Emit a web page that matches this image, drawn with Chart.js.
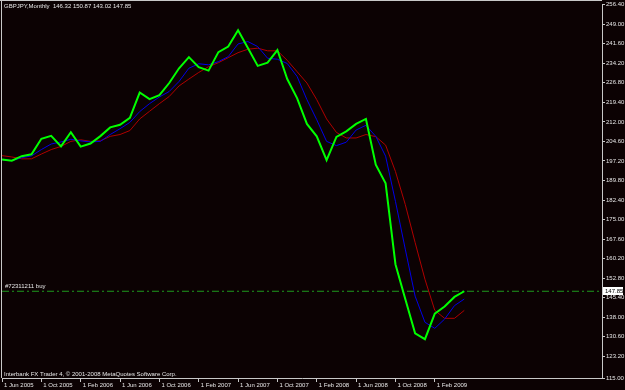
<!DOCTYPE html>
<html>
<head>
<meta charset="utf-8">
<script src="https://cdn.jsdelivr.net/npm/chart.js@4.4.1/dist/chart.umd.min.js"></script>
<style>
html,body{margin:0;padding:0;background:#0c0203;}
canvas{display:block;}
</style>
</head>
<body>
<canvas id="c" width="625" height="390"></canvas>
<script>
// Monthly bars Jun 2005 .. May 2009
const months = ['Jun 2005','Jul 2005','Aug 2005','Sep 2005','Oct 2005','Nov 2005','Dec 2005','Jan 2006',
  'Feb 2006','Mar 2006','Apr 2006','May 2006','Jun 2006','Jul 2006','Aug 2006','Sep 2006',
  'Oct 2006','Nov 2006','Dec 2006','Jan 2007','Feb 2007','Mar 2007','Apr 2007','May 2007',
  'Jun 2007','Jul 2007','Aug 2007','Sep 2007','Oct 2007','Nov 2007','Dec 2007','Jan 2008',
  'Feb 2008','Mar 2008','Apr 2008','May 2008','Jun 2008','Jul 2008','Aug 2008','Sep 2008',
  'Oct 2008','Nov 2008','Dec 2008','Jan 2009','Feb 2009','Mar 2009','Apr 2009','May 2009'];

// close price (green line)
const closeValues = [197.7,197.3,199.0,199.7,205.6,206.7,202.7,208.1,202.6,203.8,206.6,209.9,
  210.9,213.5,223.1,220.6,222.1,226.7,232.3,236.5,232.7,231.4,238.4,240.5,
  246.7,240.0,233.2,234.4,239.2,228.2,221.0,211.2,206.5,197.5,206.3,208.4,
  211.2,213.1,195.8,188.7,158.1,144.9,131.9,129.7,139.4,142.1,145.7,147.85];

// fast moving average (blue)
const blueMA = [197.7,197.3,198.4,199.1,201.5,203.6,204.4,205.4,204.8,204.4,204.6,207.2,
  209.4,211.8,215.9,218.9,221.4,223.5,227.3,232.3,234.0,233.6,234.8,236.7,
  241.5,242.4,240.5,236.1,235.7,234.1,229.2,220.4,212.8,204.6,203.0,204.3,
  208.9,210.7,206.5,199.0,181.9,163.8,146.0,136.1,133.8,137.3,142.4,144.9];

// slow moving average (red)
const redMA = [199.2,198.7,198.0,198.0,199.8,201.5,202.7,204.6,205.2,204.6,204.8,206.5,
  207.2,208.7,213.1,216.0,218.9,221.6,225.6,228.2,230.7,232.9,234.4,236.3,
  238.2,239.5,239.9,238.9,238.9,235.3,231.0,226.7,220.4,213.1,208.0,205.9,
  205.9,207.2,206.4,203.2,193.2,180.7,166.3,152.4,140.6,137.6,137.6,140.6];

const yTickValues = [256.40,249.00,241.60,234.20,226.80,219.40,212.00,204.60,197.20,189.80,
  182.40,175.00,167.60,160.20,152.80,145.40,138.00,130.60,123.20,115.00];
const xTickIndex = [0,4,8,12,16,20,24,28,32,36,40,44];
const xTickLabels = ['1 Jun 2005','1 Oct 2005','1 Feb 2006','1 Jun 2006','1 Oct 2006','1 Feb 2007',
  '1 Jun 2007','1 Oct 2007','1 Feb 2008','1 Jun 2008','1 Oct 2008','1 Feb 2009'];

const titleText = 'GBPJPY,Monthly  146.32 150.87 143.02 147.85';
const orderLabel = '#72311211 buy';
const orderPrice = 147.85;
const copyrightText = 'Interbank FX Trader 4, \u00a9 2001-2008 MetaQuotes Software Corp.';

const FONT = 'Liberation Sans';
const TXT = '#e6e6e6';
const AXIS = '#c8c8c8';

const toXY = arr => arr.map((v, i) => ({x: i, y: v}));

const decor = {
  id: 'decor',
  beforeDraw(chart) {
    const ctx = chart.ctx;
    ctx.save();
    ctx.fillStyle = '#0c0203';
    ctx.fillRect(0, 0, chart.width, chart.height);
    ctx.restore();
  },
  afterDraw(chart) {
    const ctx = chart.ctx;
    const a = chart.chartArea;
    const ys = chart.scales.y;
    ctx.save();
    // frame
    ctx.strokeStyle = AXIS;
    ctx.lineWidth = 1;
    ctx.beginPath();
    ctx.moveTo(1.5, 0); ctx.lineTo(1.5, a.bottom);
    ctx.moveTo(0, 0.5); ctx.lineTo(a.right, 0.5);
    ctx.stroke();
    // texts
    ctx.fillStyle = TXT;
    ctx.font = '6px "' + FONT + '"';
    ctx.textBaseline = 'middle';
    ctx.textAlign = 'left';
    ctx.fillText(titleText, 4, 6.5);
    ctx.fillText(copyrightText, 4, 374.5);
    const py = ys.getPixelForValue(orderPrice);
    ctx.fillText(orderLabel, 5, py - 5);
    // price box
    ctx.fillStyle = '#ffffff';
    ctx.fillRect(a.right + 1, Math.round(py) - 4, 20, 8);
    ctx.fillStyle = '#000000';
    ctx.fillText(orderPrice.toFixed(2), a.right + 3, Math.round(py));
    ctx.restore();
  }
};

new Chart(document.getElementById('c'), {
  type: 'line',
  data: {
    datasets: [
      {label: 'Close', data: toXY(closeValues), borderColor: '#00ff00', borderWidth: 2,
        pointRadius: 0, tension: 0, order: 1},
      {label: 'MA fast', data: toXY(blueMA), borderColor: '#0000e6', borderWidth: 1,
        pointRadius: 0, tension: 0, order: 2},
      {label: 'MA slow', data: toXY(redMA), borderColor: '#b00000', borderWidth: 1,
        pointRadius: 0, tension: 0, order: 3},
      {label: 'Order', data: [{x: 0, y: orderPrice}, {x: 61, y: orderPrice}], borderColor: '#1e9a1e',
        borderWidth: 1, borderDash: [7, 3, 2, 3], pointRadius: 0, order: 4}
    ]
  },
  options: {
    responsive: false,
    animation: false,
    devicePixelRatio: 1,
    layout: {padding: {left: 2, top: 4, right: 0, bottom: 0}},
    plugins: {legend: {display: false}, tooltip: {enabled: false}},
    scales: {
      x: {
        type: 'linear', min: 0, max: 61,
        afterBuildTicks: s => { s.ticks = xTickIndex.map(v => ({value: v})); },
        afterFit: s => { s.height = 12; },
        grid: {drawOnChartArea: false, drawTicks: true, tickLength: 4, color: AXIS},
        border: {color: AXIS},
        ticks: {
          autoSkip: false, maxRotation: 0, align: 'start', labelOffset: 2, padding: 0,
          color: TXT, font: {family: FONT, size: 6},
          callback: (v) => xTickLabels[xTickIndex.indexOf(v)]
        }
      },
      y: {
        position: 'right', min: 115, max: 256.4,
        afterBuildTicks: s => { s.ticks = yTickValues.map(v => ({value: v})); },
        afterFit: s => { s.width = 23; },
        grid: {drawOnChartArea: false, drawTicks: true, tickLength: 3, color: AXIS},
        border: {color: AXIS},
        ticks: {
          autoSkip: false, padding: 1, color: TXT, font: {family: FONT, size: 6},
          callback: v => Number(v).toFixed(2)
        }
      }
    }
  },
  plugins: [decor]
});
</script>
</body>
</html>
